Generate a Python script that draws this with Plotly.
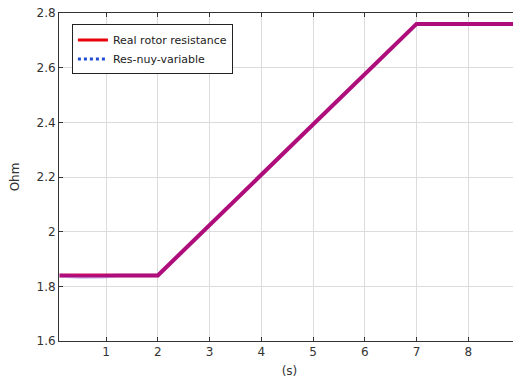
import plotly.graph_objects as go

# Data
time_real = [0.1, 2, 7, 9]
res_real = [1.84, 1.84, 2.76, 2.76]
time_est = [0.1, 0.3, 0.5, 0.9, 1.2, 2, 7, 9]
res_est = [1.84, 1.837, 1.834, 1.835, 1.84, 1.84, 2.76, 2.76]
x_ticks = [1, 2, 3, 4, 5, 6, 7, 8, 9]
y_ticks = [1.6, 1.8, 2.0, 2.2, 2.4, 2.6, 2.8]
y_labels = ["1.6", "1.8", "2", "2.2", "2.4", "2.6", "2.8"]

fig = go.Figure()
# visible lines (overlapping -> purple look)
fig.add_trace(go.Scatter(x=time_real, y=res_real, mode="lines",
                         line=dict(color="rgb(205,10,100)", width=4), showlegend=False))
fig.add_trace(go.Scatter(x=time_est, y=res_est, mode="lines",
                         line=dict(color="rgb(70,30,210)", width=4), opacity=0.22, showlegend=False))
# legend entries
fig.add_trace(go.Scatter(x=[None], y=[None], mode="lines", name="Real rotor resistance",
                         line=dict(color="#e8000b", width=3)))
fig.add_trace(go.Scatter(x=[None], y=[None], mode="lines", name="Res-nuy-variable",
                         line=dict(color="#1f4fd0", width=3, dash="dot")))

axis_common = dict(showline=True, linecolor="#333", linewidth=1, mirror="ticks",
                   ticks="inside", ticklen=4, tickcolor="#333", automargin=False,
                   ticklabeloverflow="allow",
                   showgrid=True, gridcolor="#dcdcdc", gridwidth=1, zeroline=False,
                   tickfont=dict(family="DejaVu Sans", size=12, color="#333"))

fig.update_layout(
    width=521, height=385,
    margin=dict(l=51, r=9, t=5, b=52),
    paper_bgcolor="white", plot_bgcolor="white",
    font=dict(family="DejaVu Sans", size=12, color="#333"),
    xaxis=dict(range=[0.09, 9], tickvals=x_ticks, title=dict(text="(s)", standoff=8,
               font=dict(size=12)), **axis_common),
    yaxis=dict(range=[1.6, 2.8], tickvals=y_ticks, ticktext=y_labels,
               title=dict(text="Ohm", standoff=24, font=dict(size=12)), **axis_common),
    legend=dict(x=0.028, y=0.965, xanchor="left", yanchor="top",
                bgcolor="white", bordercolor="#222", borderwidth=1,
                font=dict(size=11, color="#222"), tracegroupgap=0),
    showlegend=True,
)

fig.write_html("out.html")
